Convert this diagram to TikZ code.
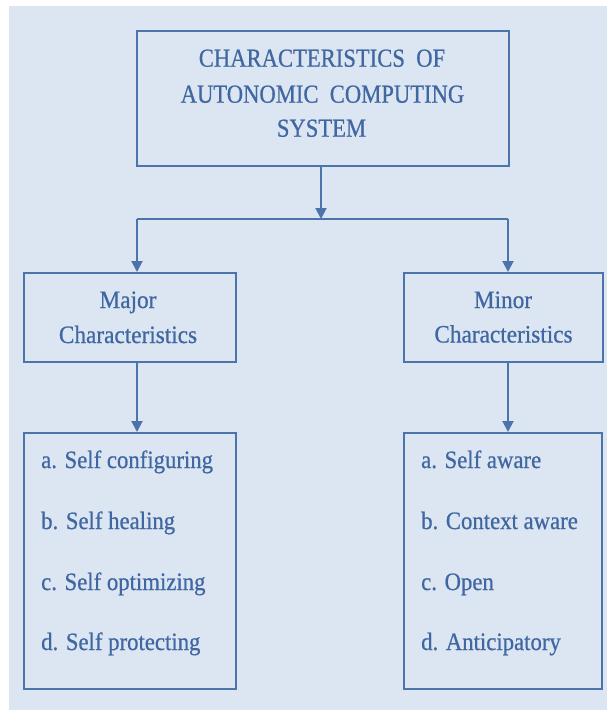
\documentclass[tikz,border=0pt]{standalone}
\usepackage{fontspec}
\usepackage{graphicx}
\setmainfont[FakeBold=0.7]{Liberation Serif}
\usetikzlibrary{arrows.meta}
\definecolor{bgblue}{HTML}{DCE6F2}
\definecolor{lineblue}{HTML}{4B74AB}
\definecolor{textblue}{HTML}{4067A1}
\newcommand{\tsq}[1]{\scalebox{0.87}[1]{#1}}
\newcommand{\msq}[1]{\scalebox{0.93}[1]{#1}}
\newcommand{\lsq}[1]{\scalebox{0.91}[1]{#1}}
\tikzset{
  box/.style={draw=lineblue, line width=2pt, rectangle, inner sep=0pt},
  conn/.style={draw=lineblue, line width=2pt},
  arr/.style={conn, -{Triangle[width=11pt,length=11pt]}},
  toptxt/.style={text=textblue, inner sep=0pt, anchor=base, font=\fontsize{26}{30}\selectfont},
  midtxt/.style={text=textblue, inner sep=0pt, anchor=base, font=\fontsize{25}{30}\selectfont},
  listtxt/.style={text=textblue, inner sep=0pt, anchor=base west, font=\fontsize{25}{30}\selectfont}
}
\begin{document}
\begin{tikzpicture}[x=1pt,y=-1pt]
\useasboundingbox (0,0) rectangle (607,710);
\fill[white] (0,0) rectangle (607,710);
\fill[bgblue] (9,6) rectangle (607,710);

% boxes
\node[box, minimum width=372pt, minimum height=135pt] (top) at (323,98.5) {};
\node[box, minimum width=212pt, minimum height=89pt] (major) at (130,317.5) {};
\node[box, minimum width=199pt, minimum height=89pt] (minor) at (503.5,317.5) {};
\node[box, minimum width=212pt, minimum height=256pt] (majlist) at (130,561) {};
\node[box, minimum width=198pt, minimum height=256pt] (minlist) at (503,561) {};

% top text
\node[toptxt] (t1) at (322,66.7) {\tsq{CHARACTERISTICS\ \ OF}};
\node[toptxt] (t2) at (322.5,102.7) {\tsq{AUTONOMIC\ \ COMPUTING}};
\node[toptxt] (t3) at (321.5,136.7) {\tsq{SYSTEM}};

% middle text
\node[midtxt] (m1) at (128,308) {\msq{Major}};
\node[midtxt] (m2) at (128,343) {\msq{Characteristics}};
\node[midtxt] (n1) at (503,308) {\msq{Minor}};
\node[midtxt] (n2) at (503.5,342.5) {\msq{Characteristics}};

% lists
\node[listtxt] (a1) at (41,468) {\lsq{a. Self configuring}};
\node[listtxt] (a2) at (41,529) {\lsq{b. Self healing}};
\node[listtxt] (a3) at (41,590) {\lsq{c. Self optimizing}};
\node[listtxt] (a4) at (41,650) {\lsq{d. Self protecting}};
\node[listtxt] (b1) at (421,468) {\lsq{a. Self aware}};
\node[listtxt] (b2) at (421,529) {\lsq{b. Context aware}};
\node[listtxt] (b3) at (421,590) {\lsq{c. Open}};
\node[listtxt] (b4) at (421,650) {\lsq{d. Anticipatory}};

% connectors
\coordinate (j) at (321,219);
\coordinate (jl) at (137,219);
\coordinate (jr) at (508,219);
\draw[arr] (top.south -| j) -- (j);
\draw[conn] (jl) -- (jr);
\draw[arr] (jl) -- (jl |- major.north);
\draw[arr] (jr) -- (jr |- minor.north);
\draw[arr] (jl |- major.south) -- (jl |- majlist.north);
\draw[arr] (jr |- minor.south) -- (jr |- minlist.north);
\end{tikzpicture}
\end{document}
